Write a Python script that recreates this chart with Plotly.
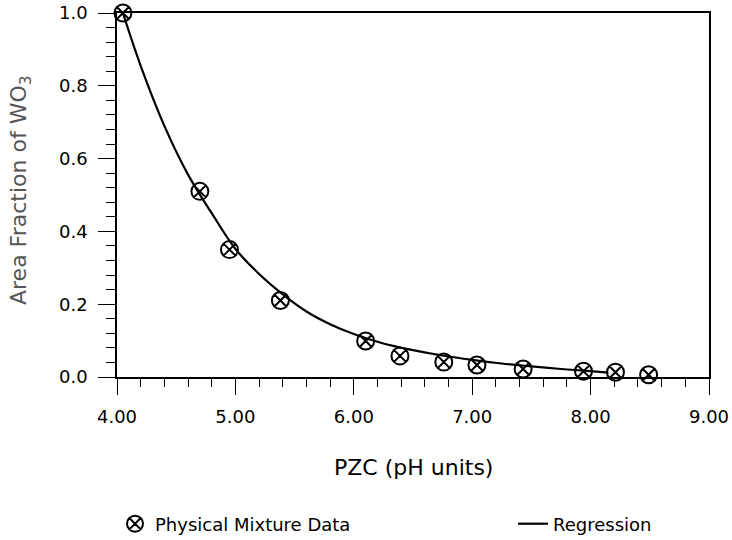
import plotly.graph_objects as go

# Data
pzc_data = [4.05, 4.70, 4.95, 5.38, 6.10, 6.39, 6.76, 7.04, 7.43, 7.94, 8.21, 8.49]
frac_data = [1.00, 0.51, 0.35, 0.21, 0.099, 0.058, 0.041, 0.033, 0.022, 0.016, 0.013, 0.006]

pzc_fit = [4.05, 4.20, 4.40, 4.60, 4.80, 5.00, 5.20, 5.40, 5.60, 5.80, 6.00, 6.25,
           6.50, 6.75, 7.00, 7.25, 7.50, 7.75, 8.00, 8.15]
frac_fit = [1.00, 0.855, 0.690, 0.556, 0.450, 0.352, 0.283, 0.227, 0.180, 0.145, 0.118, 0.092,
            0.074, 0.059, 0.047, 0.037, 0.029, 0.022, 0.016, 0.012]

x_title = "PZC (pH units)"
y_title = "Area Fraction of WO<sub>3</sub>"
data_name = "Physical Mixture Data"
fit_name = "Regression"

FONT = "DejaVu Sans"
W, H = 732, 540

fig = go.Figure()
fig.add_trace(go.Scatter(
    x=pzc_fit, y=frac_fit, mode="lines", name=fit_name,
    line=dict(color="black", width=2.2, shape="spline", smoothing=1.0),
    legend="legend2", cliponaxis=False,
))
fig.add_trace(go.Scatter(
    x=pzc_data, y=frac_data, mode="markers", name=data_name,
    marker=dict(symbol="circle-x-open", size=17, color="black",
                line=dict(color="black", width=2)),
    legend="legend", cliponaxis=False,
))

fig.update_layout(
    template="none",
    width=W, height=H,
    margin=dict(l=117, r=23, t=13, b=163, autoexpand=False),
    paper_bgcolor="white", plot_bgcolor="white",
    font=dict(family=FONT, size=18, color="black"),
    showlegend=True,
    legend=dict(xref="container", yref="container", x=115 / W, y=1 - 524 / H,
                xanchor="left", yanchor="middle",
                font=dict(family=FONT, size=18, color="black"), bgcolor="rgba(0,0,0,0)"),
    legend2=dict(xref="container", yref="container", x=513 / W, y=1 - 524 / H,
                 xanchor="left", yanchor="middle",
                 font=dict(family=FONT, size=18, color="black"), bgcolor="rgba(0,0,0,0)"),
    xaxis=dict(
        range=[4, 9], dtick=1, tick0=4, tickformat=".2f", automargin=False,
        showgrid=False, zeroline=False,
        showline=True, linecolor="black", linewidth=1.6, mirror=True,
        ticks="outside", ticklen=16, tickwidth=1.4, tickcolor="black",
        ticklabelstandoff=7,
        minor=dict(dtick=0.2, ticks="outside", ticklen=8, tickwidth=1.2, tickcolor="black", showgrid=False),
        tickfont=dict(family=FONT, size=18, color="black"),
    ),
    yaxis=dict(
        range=[0, 1], dtick=0.2, tick0=0, tickformat=".1f", automargin=False,
        showgrid=False, zeroline=False,
        showline=True, linecolor="black", linewidth=1.6, mirror=True,
        ticks="outside", ticklen=17, tickwidth=1.4, tickcolor="black",
        ticklabelstandoff=7,
        minor=dict(dtick=0.04, ticks="outside", ticklen=9, tickwidth=1.2, tickcolor="black", showgrid=False),
        tickfont=dict(family=FONT, size=18, color="black"),
    ),
    annotations=[
        dict(text=x_title, xref="paper", yref="paper", x=0.5, y=(377 - 467) / 364,
             xanchor="center", yanchor="middle", showarrow=False,
             font=dict(family=FONT, size=22, color="black")),
        dict(text=y_title, xref="paper", yref="paper", x=(20 - 117) / 592, y=(377 - 190) / 364,
             xanchor="center", yanchor="middle", showarrow=False, textangle=-90,
             font=dict(family=FONT, size=22, color="#555555")),
    ],
)

fig.write_html("out.html", config={"displayModeBar": False},
               post_script="document.body.style.margin='0';document.body.style.overflow='hidden';")
